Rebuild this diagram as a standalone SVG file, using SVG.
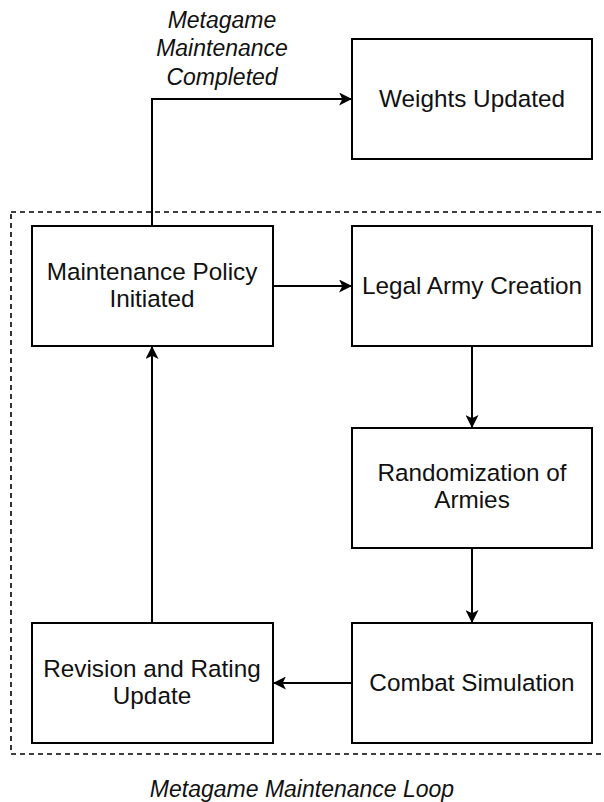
<svg xmlns="http://www.w3.org/2000/svg" width="604" height="802" viewBox="0 0 604 802">
<style>
.box{fill:#fff;stroke:#000;stroke-width:2}
.t{font-family:"Liberation Sans",Arial,sans-serif;font-size:24.3px;fill:#111;text-anchor:middle}
.it{font-family:"Liberation Sans",Arial,sans-serif;font-size:23px;font-style:italic;fill:#111;text-anchor:middle}
.c{fill:none;stroke:#000;stroke-width:2}
</style>
<defs>
<marker id="arr" viewBox="0 0 12 12" refX="11" refY="6" markerWidth="13" markerHeight="13" markerUnits="userSpaceOnUse" orient="auto">
<path d="M0,0 L12,6 L0,12 L3,6 Z" fill="#000"/>
</marker>
</defs>
<rect id="loop" x="11" y="212" width="600" height="542" fill="none" stroke="#000" stroke-width="1.6" stroke-dasharray="5,4"/>
<g id="connectors">
<path class="c" d="M152,226 V99 H351" marker-end="url(#arr)"/>
<path class="c" d="M273,286 H351" marker-end="url(#arr)"/>
<path class="c" d="M472,346 V427" marker-end="url(#arr)"/>
<path class="c" d="M472,548 V622" marker-end="url(#arr)"/>
<path class="c" d="M352,683 H274" marker-end="url(#arr)"/>
<path class="c" d="M152,623 V347" marker-end="url(#arr)"/>
</g>
<g id="weights"><rect class="box" x="352" y="39" width="240" height="120"/><text class="t" x="472" y="107">Weights Updated</text></g>
<g id="policy"><rect class="box" x="32" y="226" width="241" height="120"/><text class="t" x="152" y="280">Maintenance Policy</text><text class="t" x="152" y="307">Initiated</text></g>
<g id="legal"><rect class="box" x="352" y="226" width="240" height="120"/><text class="t" x="472" y="294">Legal Army Creation</text></g>
<g id="random"><rect class="box" x="352" y="428" width="240" height="120"/><text class="t" x="472" y="481">Randomization of</text><text class="t" x="472" y="508">Armies</text></g>
<g id="combat"><rect class="box" x="352" y="623" width="240" height="120"/><text class="t" x="472" y="691">Combat Simulation</text></g>
<g id="revision"><rect class="box" x="32" y="623" width="241" height="120"/><text class="t" x="152" y="677">Revision and Rating</text><text class="t" x="152" y="704">Update</text></g>
<g id="label-completed"><text class="it" x="222" y="28">Metagame</text><text class="it" x="222" y="56">Maintenance</text><text class="it" x="222" y="85">Completed</text></g>
<g id="label-loop"><text class="it" x="302" y="797">Metagame Maintenance Loop</text></g>
</svg>
